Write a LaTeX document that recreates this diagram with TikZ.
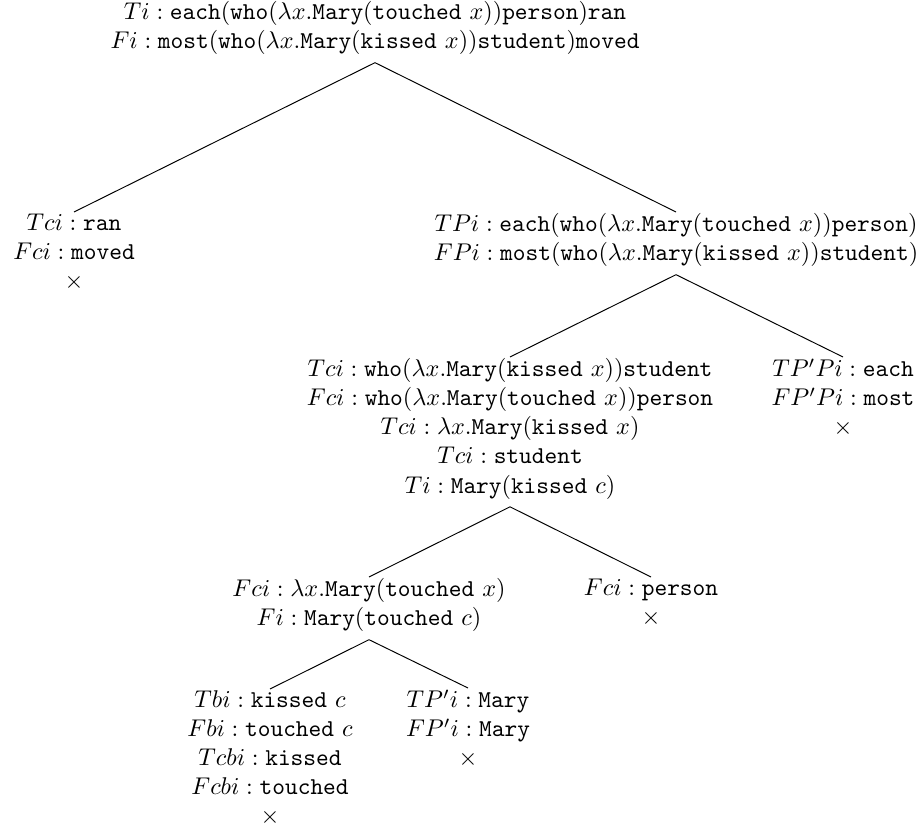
\documentclass[tikz,border=0pt]{standalone}
\usepackage{amsmath}
\usepackage{tikz}

\begin{document}
\begin{tikzpicture}[x=0.4132pt, y=-0.4132pt,
  every node/.style={anchor=north, align=center, inner ysep=0.5pt}]
\useasboundingbox (0,0) rectangle (918,832);

\node (root) at (375,0) {$Ti : \mathtt{each}(\mathtt{who}(\lambda x.\mathtt{Mary}(\mathtt{touched}\ x))\mathtt{person})\mathtt{ran}$\\ $Fi : \mathtt{most}(\mathtt{who}(\lambda x.\mathtt{Mary}(\mathtt{kissed}\ x))\mathtt{student})\mathtt{moved}$};

\node (ran) at (74,212) {$Tci : \mathtt{ran}$\\ $Fci : \mathtt{moved}$\\ $\times$};

\node (restr) at (676,212) {$TPi : \mathtt{each}(\mathtt{who}(\lambda x.\mathtt{Mary}(\mathtt{touched}\ x))\mathtt{person})$\\ $FPi : \mathtt{most}(\mathtt{who}(\lambda x.\mathtt{Mary}(\mathtt{kissed}\ x))\mathtt{student})$};

\node (who) at (510,357) {$Tci : \mathtt{who}(\lambda x.\mathtt{Mary}(\mathtt{kissed}\ x))\mathtt{student}$\\ $Fci : \mathtt{who}(\lambda x.\mathtt{Mary}(\mathtt{touched}\ x))\mathtt{person}$\\ $Tci : \lambda x.\mathtt{Mary}(\mathtt{kissed}\ x)$\\ $Tci : \mathtt{student}$\\ $Ti : \mathtt{Mary}(\mathtt{kissed}\ c)$};

\node (det) at (843,357) {$TP'Pi : \mathtt{each}$\\ $FP'Pi : \mathtt{most}$\\ $\times$};

\node (lam) at (369,577) {$Fci : \lambda x.\mathtt{Mary}(\mathtt{touched}\ x)$\\ $Fi : \mathtt{Mary}(\mathtt{touched}\ c)$};

\node (person) at (651,577) {$Fci : \mathtt{person}$\\ $\times$};

\node (verb) at (270,689) {$Tbi : \mathtt{kissed}\ c$\\ $Fbi : \mathtt{touched}\ c$\\ $Tcbi : \mathtt{kissed}$\\ $Fcbi : \mathtt{touched}$\\ $\times$};

\node (subj) at (468,688) {$TP'i : \mathtt{Mary}$\\ $FP'i : \mathtt{Mary}$\\ $\times$};

\draw ([yshift=-2.5pt]root.south) -- (ran.north);
\draw ([yshift=-2.5pt]root.south) -- (restr.north);
\draw ([yshift=-2.5pt]restr.south) -- (who.north);
\draw ([yshift=-2.5pt]restr.south) -- (det.north);
\draw ([yshift=-2.5pt]who.south) -- (lam.north);
\draw ([yshift=-2.5pt]who.south) -- (person.north);
\draw ([yshift=-2.5pt]lam.south) -- (verb.north);
\draw ([yshift=-2.5pt]lam.south) -- (subj.north);

\end{tikzpicture}
\end{document}
